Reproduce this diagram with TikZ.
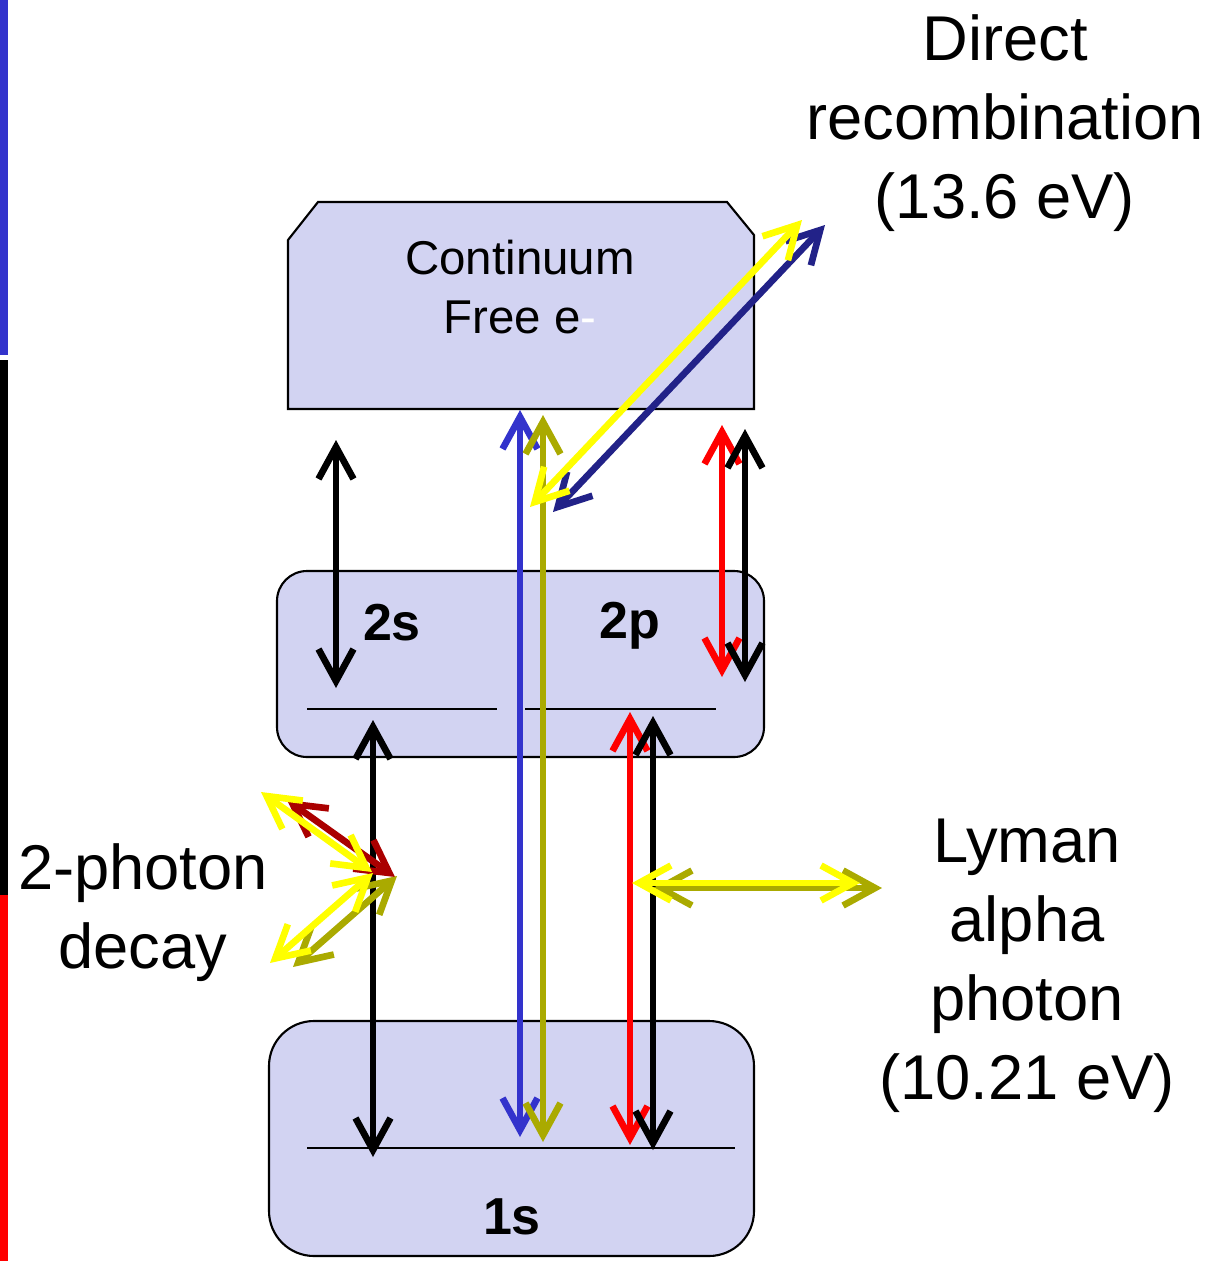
\documentclass[tikz,border=0pt]{standalone}
\usepackage{fontspec}
\setmainfont{Liberation Sans}
\usetikzlibrary{arrows.meta}

\definecolor{levelfill}{RGB}{210,211,242}
\definecolor{lineblue}{RGB}{51,51,204}
\definecolor{lineolive}{RGB}{170,170,0}
\definecolor{lineyellow}{RGB}{255,255,0}
\definecolor{linenavy}{RGB}{34,34,136}
\definecolor{linedarkred}{RGB}{170,0,0}
\definecolor{linered}{RGB}{255,0,0}

\begin{document}
\begin{tikzpicture}[
  levelbox/.style={draw=black, fill=levelfill, line width=0.6pt},
  statelbl/.style={font=\fontsize{14.8}{17}\selectfont\bfseries},
  biglbl/.style={align=center, font=\fontsize{18}{22.5}\selectfont},
  sublevel/.style={line width=0.6pt},
  trans/.style={{Straight Barb[length=3.2mm,width=3.5mm]}-{Straight Barb[length=3.2mm,width=3.5mm]},
    line width=1.9pt}
]
\useasboundingbox (0,0) rectangle (12.13,-12.61);

% --- colour bars on the left edge ---
\fill[lineblue] (0,0) rectangle (0.08,-3.55);
\fill[black] (0,-3.60) rectangle (0.08,-8.95);
\fill[linered] (0,-8.95) rectangle (0.08,-12.61);

% --- Levels ---
\draw[levelbox] (2.88,-2.40) -- (3.18,-2.02) -- (7.27,-2.02) -- (7.54,-2.35)
  -- (7.54,-4.09) -- (2.88,-4.09) -- cycle;
\node[align=center, font=\fontsize{13.5}{16.8}\selectfont] (cont) at (5.20,-2.87)
  {Continuum\\Free e\textcolor{white}{-}};

\node[levelbox, rounded corners=0.3cm, minimum width=4.87cm, minimum height=1.86cm] (n2) at (5.205,-6.64) {};
\node[levelbox, rounded corners=0.45cm, minimum width=4.85cm, minimum height=2.35cm] (n1) at (5.115,-11.385) {};

\draw[sublevel] (3.07,-7.09) -- (4.97,-7.09);
\draw[sublevel] (5.25,-7.09) -- (7.16,-7.09);
\draw[sublevel] (3.07,-11.48) -- (7.35,-11.48);

\node[statelbl] (l2s) at (3.92,-6.23) {2s};
\node[statelbl] (l2p) at (6.30,-6.26) {2p};
\node[statelbl] (l1s) at (5.12,-12.17) {1s};

% --- end points of the transitions ---
\coordinate (ca1) at (3.36,-4.40);  \coordinate (ca2) at (3.36,-6.88);
\coordinate (sa1) at (3.73,-7.20);  \coordinate (sa2) at (3.73,-11.57);
\coordinate (ia1) at (5.20,-4.10);  \coordinate (ia2) at (5.20,-11.37);
\coordinate (ib1) at (5.43,-4.15);  \coordinate (ib2) at (5.43,-11.42);
\coordinate (pa1) at (7.22,-4.25);  \coordinate (pa2) at (7.22,-6.77);
\coordinate (pb1) at (7.45,-4.29);  \coordinate (pb2) at (7.45,-6.82);
\coordinate (la1) at (6.30,-7.12);  \coordinate (la2) at (6.30,-11.45);
\coordinate (lb1) at (6.53,-7.16);  \coordinate (lb2) at (6.53,-11.50);
\coordinate (ra1) at (5.30,-5.07);  \coordinate (ra2) at (8.02,-2.20);
\coordinate (rb1) at (5.53,-5.12);  \coordinate (rb2) at (8.25,-2.25);
\coordinate (ya1) at (6.32,-8.83);  \coordinate (ya2) at (8.60,-8.83);
\coordinate (yb1) at (6.53,-8.88);  \coordinate (yb2) at (8.82,-8.88);
\coordinate (ta1) at (2.87,-8.00);  \coordinate (ta2) at (3.95,-8.77);
\coordinate (tb1) at (2.61,-7.92);  \coordinate (tb2) at (3.72,-8.72);
\coordinate (tc1) at (2.70,-9.63);  \coordinate (tc2) at (3.73,-8.73);
\coordinate (td1) at (2.93,-9.67);  \coordinate (td2) at (3.97,-8.76);

% --- vertical transitions ---
\draw[trans, black] (ca1) -- (ca2);
\draw[trans, black] (sa1) -- (sa2);
\draw[trans, lineblue] (ia1) -- (ia2);
\draw[trans, lineolive] (ib1) -- (ib2);
\draw[trans, linered] (pa1) -- (pa2);
\draw[trans, black] (pb1) -- (pb2);
\draw[trans, linered] (la1) -- (la2);
\draw[trans, black] (lb1) -- (lb2);

% --- recombination photons ---
\draw[trans, linenavy] (rb1) -- (rb2);
\draw[trans, lineyellow] (ra1) -- (ra2);

% --- Lyman alpha ---
\draw[trans, lineolive] (yb1) -- (yb2);
\draw[trans, lineyellow] (ya1) -- (ya2);

% --- 2-photon decay ---
\draw[trans, linedarkred] (ta1) -- (ta2);
\draw[trans, lineolive] (td1) -- (td2);
\draw[trans, lineyellow] (tb1) -- (tb2);
\draw[trans, lineyellow] (tc1) -- (tc2);

% --- labels ---
\node[biglbl] (lblrec) at (10.05,-1.23) {Direct\\recombination\\(13.6 eV)};
\node[biglbl] (lbltwo) at (1.43,-9.13) {2-photon\\decay};
\node[biglbl] (lbllya) at (10.27,-9.66) {Lyman\\alpha\\photon\\(10.21 eV)};

\end{tikzpicture}
\end{document}
